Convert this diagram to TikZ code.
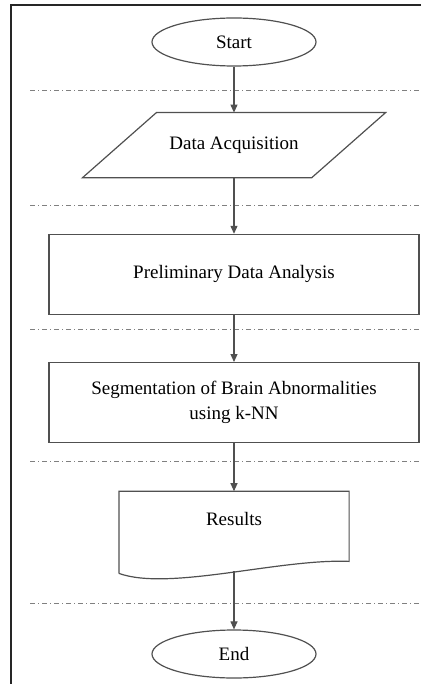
\documentclass[tikz,border=0pt]{standalone}
\usepackage{fontspec}
\setmainfont{Liberation Serif}
\usetikzlibrary{arrows.meta,positioning,shapes.geometric}
\definecolor{lineGray}{RGB}{80,80,80}
\tikzset{
  flow base/.style={
    draw=lineGray, line width=1.2pt, align=center,
    font=\fontsize{19}{25}\selectfont, inner sep=4pt
  },
  terminal/.style={flow base, ellipse, minimum width=164pt, minimum height=48pt},
  io box/.style={flow base, draw=none, rectangle, minimum width=228pt, minimum height=64pt},
  process box/.style={flow base, rectangle, minimum width=370pt, minimum height=80pt},
  outline/.style={lineGray, line width=1.2pt, line join=miter},
  flow arrow/.style={-{Triangle[length=8pt,width=7pt]}, line width=1.1pt, lineGray},
  stage line/.style={gray, line width=0.9pt, dash pattern=on 5pt off 3pt on 1pt off 3pt},
  frame line/.style={black!85, line width=1.6pt}
}

\begin{document}
\begin{tikzpicture}[x=1pt, y=-1pt]
    \useasboundingbox (0,0) rectangle (421,684);
    % frame (top and left only)
    \draw[frame line] (421,5) -- (11,5) -- (11,684);

    \node[terminal] (start) at (234,42) {Start};
    \node[io box, below=46pt of start] (acquisition) {Data Acquisition};
    \node[process box, below=56pt of acquisition] (analysis) {Preliminary Data Analysis};
    \node[process box, below=47pt of analysis] (segmentation) {Segmentation of Brain Abnormalities\\using k-NN};
    \node[flow base, draw=none, minimum width=229pt, minimum height=81pt,
      below=48pt of segmentation] (results) {Results\\[2pt]};
    \node[terminal, below=56pt of results] (end) {End};

    % parallelogram around the input node
    \draw[outline] ([xshift=37pt]acquisition.north west) -- ([xshift=37pt]acquisition.north east)
      -- ([xshift=-37pt]acquisition.south east) -- ([xshift=-37pt]acquisition.south west) -- cycle;

    % document outline with wavy bottom
    \draw[outline] (results.south west) -- (results.north west)
      -- (results.north east) -- ([yshift=12pt]results.south east)
      .. controls ([xshift=-69pt,yshift=15pt]results.south east)
      and ([xshift=50pt,yshift=-18pt]results.south west) .. (results.south west);

    % stage separators
    \draw[stage line] (30,90) -- (421,90);
    \draw[stage line] (30,205) -- (421,205);
    \draw[stage line] (30,329) -- (421,329);
    \draw[stage line] (30,461) -- (421,461);
    \draw[stage line] (30,603) -- (421,603);

    \draw[flow arrow] (start) -- (acquisition);
    \draw[flow arrow] (acquisition) -- (analysis);
    \draw[flow arrow] (analysis) -- (segmentation);
    \draw[flow arrow] (segmentation) -- (results);
    \draw[flow arrow] ([yshift=2pt]results.south) -- (end);
\end{tikzpicture}
\end{document}
